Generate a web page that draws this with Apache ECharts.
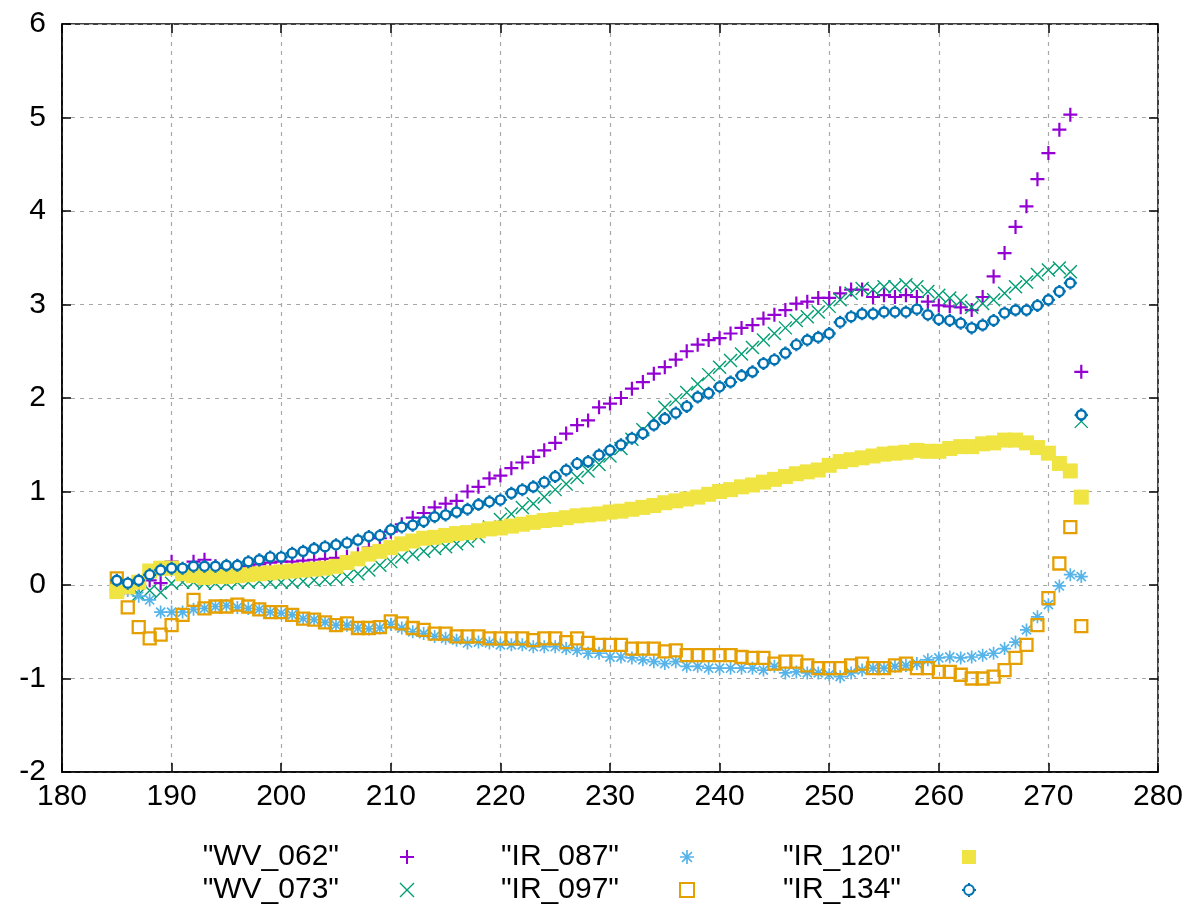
<!DOCTYPE html>
<html>
<head>
<meta charset="utf-8">
<script src="https://cdn.jsdelivr.net/npm/echarts@6/dist/echarts.min.js"></script>
<style>
html,body{margin:0;padding:0;background:#fff;}
#chart{width:1193px;height:913px;}
</style>
</head>
<body>
<div id="chart"></div>
<script>
// x positions (integer temperatures)
const xs = [];
for (let v = 185; v <= 273; v++) xs.push(v);

const seriesNames = ['"WV_062"', '"WV_073"', '"IR_087"', '"IR_097"', '"IR_120"', '"IR_134"'];

const wv062 = [-0.05,-0.03,0.0,0.05,0.02,0.25,0.15,0.25,0.27,0.2,0.18,0.2,0.2,0.22,0.24,0.25,0.25,0.26,0.27,0.28,0.29,0.3,0.33,0.4,0.5,0.57,
  0.65,0.72,0.77,0.83,0.87,0.9,1.0,1.05,1.14,1.17,1.25,1.31,1.37,1.44,1.52,1.62,1.71,1.76,1.9,1.94,2.0,2.1,2.17,2.26,2.33,2.41,2.5,2.57,2.62,2.64,
  2.69,2.75,2.78,2.85,2.89,2.94,3.01,3.03,3.07,3.07,3.12,3.16,3.16,3.08,3.1,3.08,3.1,3.08,3.03,2.99,2.98,2.97,2.94,3.08,3.3,3.55,3.83,4.05,4.34,4.62,4.87,5.03,2.28];

const wv073 = [0.0,-0.05,-0.1,-0.06,-0.08,0.02,0.03,0.03,0.02,0.02,0.02,0.03,0.03,0.04,0.03,0.03,0.03,0.04,0.05,0.06,0.07,0.09,0.12,0.16,0.21,0.25,
  0.3,0.33,0.36,0.39,0.41,0.44,0.47,0.52,0.62,0.7,0.76,0.83,0.87,0.94,1.02,1.08,1.15,1.22,1.29,1.38,1.46,1.56,1.66,1.78,1.9,1.98,2.06,2.15,2.25,2.33,
  2.4,2.47,2.54,2.62,2.69,2.75,2.83,2.87,2.92,2.98,3.05,3.12,3.17,3.16,3.19,3.19,3.21,3.19,3.14,3.1,3.07,3.04,2.97,3.01,3.05,3.12,3.19,3.24,3.32,3.37,3.39,3.35,1.75];

const ir087 = [0.02,-0.06,-0.12,-0.16,-0.29,-0.29,-0.29,-0.26,-0.25,-0.23,-0.22,-0.24,-0.25,-0.26,-0.29,-0.3,-0.32,-0.36,-0.37,-0.4,-0.43,-0.43,-0.46,-0.47,-0.46,-0.42,
  -0.46,-0.5,-0.52,-0.55,-0.57,-0.59,-0.62,-0.61,-0.62,-0.64,-0.64,-0.64,-0.66,-0.66,-0.66,-0.68,-0.7,-0.73,-0.73,-0.77,-0.77,-0.78,-0.8,-0.82,-0.84,-0.82,-0.87,-0.87,-0.89,-0.89,
  -0.89,-0.89,-0.89,-0.91,-0.87,-0.94,-0.93,-0.94,-0.94,-0.96,-0.98,-0.94,-0.91,-0.89,-0.89,-0.87,-0.86,-0.84,-0.8,-0.78,-0.77,-0.78,-0.77,-0.75,-0.73,-0.68,-0.61,-0.48,-0.34,-0.21,-0.01,0.11,0.09];

const ir097 = [0.07,-0.24,-0.45,-0.57,-0.53,-0.43,-0.32,-0.16,-0.25,-0.23,-0.23,-0.21,-0.23,-0.26,-0.29,-0.29,-0.32,-0.36,-0.37,-0.4,-0.43,-0.41,-0.46,-0.46,-0.45,-0.39,
  -0.41,-0.46,-0.48,-0.52,-0.52,-0.55,-0.55,-0.55,-0.57,-0.57,-0.57,-0.57,-0.59,-0.57,-0.57,-0.61,-0.57,-0.62,-0.64,-0.64,-0.64,-0.68,-0.68,-0.68,-0.71,-0.7,-0.75,-0.75,-0.75,-0.75,
  -0.75,-0.77,-0.78,-0.78,-0.84,-0.82,-0.82,-0.86,-0.89,-0.89,-0.89,-0.86,-0.84,-0.89,-0.89,-0.86,-0.84,-0.89,-0.89,-0.93,-0.93,-0.96,-1.0,-1.0,-0.98,-0.91,-0.78,-0.64,-0.43,-0.14,0.23,0.62,-0.44];

const ir120 = [-0.07,-0.02,0.03,0.15,0.18,0.18,0.12,0.1,0.08,0.09,0.09,0.1,0.11,0.12,0.13,0.14,0.15,0.16,0.17,0.18,0.2,0.24,0.28,0.33,0.36,0.4,
  0.44,0.47,0.5,0.51,0.53,0.55,0.56,0.58,0.6,0.61,0.63,0.65,0.67,0.69,0.7,0.72,0.74,0.75,0.76,0.78,0.79,0.81,0.83,0.85,0.88,0.9,0.92,0.94,0.97,1.0,
  1.02,1.05,1.07,1.1,1.13,1.16,1.19,1.21,1.23,1.28,1.32,1.34,1.36,1.38,1.4,1.41,1.42,1.44,1.43,1.43,1.46,1.48,1.48,1.51,1.52,1.55,1.55,1.52,1.47,1.41,1.3,1.22,0.94];

const ir134 = [0.05,0.02,0.05,0.11,0.16,0.18,0.18,0.2,0.2,0.2,0.21,0.21,0.25,0.27,0.3,0.3,0.34,0.36,0.39,0.41,0.43,0.45,0.48,0.52,0.53,0.59,
  0.62,0.64,0.68,0.73,0.75,0.78,0.81,0.86,0.89,0.91,0.98,1.02,1.05,1.1,1.16,1.23,1.3,1.32,1.39,1.44,1.5,1.57,1.62,1.71,1.78,1.84,1.91,2.01,2.05,2.12,
  2.17,2.24,2.28,2.37,2.41,2.48,2.57,2.62,2.65,2.69,2.81,2.87,2.9,2.9,2.92,2.92,2.92,2.95,2.89,2.84,2.83,2.8,2.75,2.78,2.83,2.91,2.94,2.94,2.99,3.05,3.14,3.23,1.82];

const xTicks = [180, 190, 200, 210, 220, 230, 240, 250, 260, 270, 280];
const yTicks = [-2, -1, 0, 1, 2, 3, 4, 5, 6];

const colors = ['#9400d3', '#009e73', '#56b4e9', '#e69f00', '#f0e442', '#0072b2'];

const symPlus = 'path://M0,5L10,5M5,0L5,10';
const symCross = 'path://M0,0L10,10M0,10L10,0';
const symStar = 'path://M0,5L10,5M5,0L5,10M1.5,1.5L8.5,8.5M1.5,8.5L8.5,1.5';
const symCircle = 'path://M5,1.5A3.5,3.5 0 1,1 4.99,1.5ZM5,0L5,1.5M5,8.5L5,10M0,5L1.5,5M8.5,5L10,5';

const FONT = 'Liberation Sans';
const FS = 30;

const values = [wv062, wv073, ir087, ir097, ir120, ir134];
const symbols = [symPlus, symCross, symStar, 'rect', 'rect', symCircle];
const sizes = [14, 13, 13, 12, 15, 13];
const fills = [colors[0], colors[1], colors[2], 'rgba(0,0,0,0)', colors[4], '#ffffff'];
const strokeW = [2.2, 1.4, 1.7, 2.3, 0, 2.4];

const series = values.map((arr, k) => ({
  name: seriesNames[k],
  type: 'scatter',
  symbol: symbols[k],
  symbolSize: sizes[k],
  data: xs.map((x, i) => [x, arr[i]]),
  itemStyle: {
    color: fills[k],
    borderColor: colors[k],
    borderWidth: strokeW[k],
    opacity: 1
  },
  emphasis: {disabled: true},
  z: 2 + k * 0.01
}));

function legendCol(idxs, rightPx) {
  return {
    orient: 'vertical',
    right: rightPx,
    top: 837,
    align: 'right',
    itemWidth: 14,
    itemHeight: 14,
    itemGap: 3,
    selectedMode: false,
    textStyle: {fontFamily: FONT, fontSize: FS, color: '#000', lineHeight: 30, padding: [0, 56, 0, 0]},
    data: idxs.map(k => ({
      name: seriesNames[k],
      icon: symbols[k],
      itemStyle: {color: fills[k], borderColor: colors[k], borderWidth: Math.min(strokeW[k], 2)}
    }))
  };
}

const gridLine = {show: true, lineStyle: {color: '#a8a8a8', type: [4, 5], width: 1.2}};

const option = {
  animation: false,
  backgroundColor: '#fff',
  grid: {left: 62, right: 35, top: 24, bottom: 141, show: true, borderColor: '#000', borderWidth: 1.5, backgroundColor: 'transparent'},
  legend: [
    legendCol([0, 1], 773),
    legendCol([2, 3], 493),
    legendCol([4, 5], 211)
  ],
  xAxis: [{
    type: 'value', min: xTicks[0], max: xTicks[xTicks.length - 1], interval: 10,
    axisLine: {show: true, onZero: false, lineStyle: {color: '#000', width: 1.5}},
    axisTick: {show: true, inside: true, length: 9, lineStyle: {color: '#000', width: 1.5}},
    axisLabel: {fontFamily: FONT, fontSize: FS, color: '#000', margin: 10},
    splitLine: gridLine
  }, {
    type: 'value', position: 'top', min: xTicks[0], max: xTicks[xTicks.length - 1], interval: 10,
    axisLine: {show: false, onZero: false},
    axisTick: {show: true, inside: true, length: 9, lineStyle: {color: '#000', width: 1.5}},
    axisLabel: {show: false}, splitLine: {show: false}
  }],
  yAxis: [{
    type: 'value', min: yTicks[0], max: yTicks[yTicks.length - 1], interval: 1,
    axisLine: {show: true, onZero: false, lineStyle: {color: '#000', width: 1.5}},
    axisTick: {show: true, inside: true, length: 9, lineStyle: {color: '#000', width: 1.5}},
    axisLabel: {fontFamily: FONT, fontSize: FS, color: '#000', margin: 16},
    splitLine: gridLine
  }, {
    type: 'value', position: 'right', min: yTicks[0], max: yTicks[yTicks.length - 1], interval: 1,
    axisLine: {show: false, onZero: false},
    axisTick: {show: true, inside: true, length: 9, lineStyle: {color: '#000', width: 1.5}},
    axisLabel: {show: false}, splitLine: {show: false}
  }],
  series: series
};

const chart = echarts.init(document.getElementById('chart'), null, {renderer: 'canvas'});
chart.setOption(option);
</script>
</body>
</html>
